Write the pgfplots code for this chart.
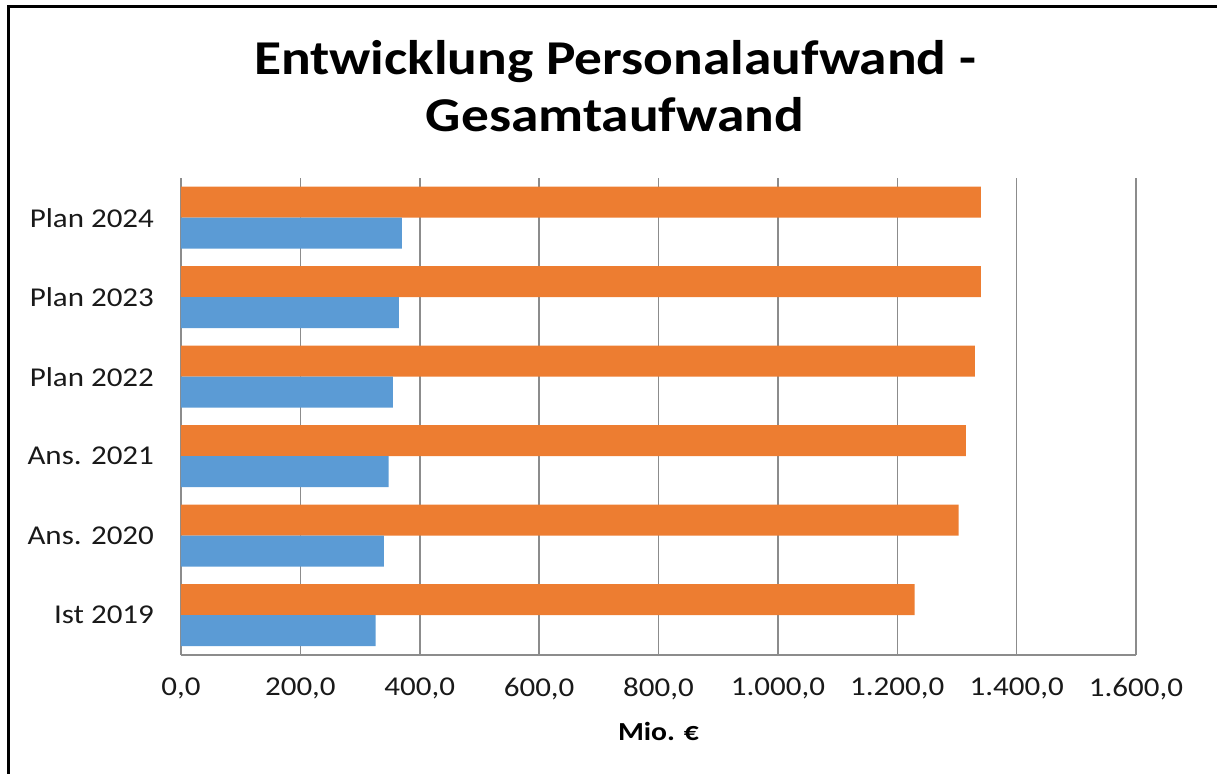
\documentclass[border=0pt]{standalone}
\usepackage{pgfplots}
\pgfplotsset{compat=1.18}
\usepackage{fontspec}
\setmainfont[FakeStretch=1.14]{Carlito}
\definecolor{barorange}{HTML}{ED7D31}
\definecolor{barblue}{HTML}{5B9BD5}
\definecolor{gridgray}{HTML}{8C8C8C}
\begin{document}
\begin{tikzpicture}
\path[use as bounding box] (0,0) rectangle (608.5pt,387pt);
\draw[line width=1.5pt] (4pt,0) -- (4pt,383.5pt) -- (608.5pt,383.5pt);
\node[anchor=base, font=\bfseries\fontsize{24.3}{28}\selectfont] at (307.5pt,349.5pt) {Entwicklung Personalaufwand -};
\node[anchor=base, font=\bfseries\fontsize{24.3}{28}\selectfont] at (307.5pt,321pt) {Gesamtaufwand};
\begin{axis}[
  at={(90.5pt,59.5pt)}, anchor=south west,
  scale only axis, width=477.5pt, height=238.5pt,
  xbar, bar width=0.39,
  xmin=0, xmax=1600, ymin=-0.5, ymax=5.5,
  xtick={0,200,...,1600},
  ytick={0,...,5},
  yticklabels={Ist 2019, Ans. 2020, Ans. 2021, Plan 2022, Plan 2023, Plan 2024},
  xmajorgrids,
  major grid style={draw=gridgray, line width=0.75pt},
  axis x line*=bottom, axis y line*=left,
  axis line style={draw=gridgray, line width=0.75pt, -},
  major tick length=0pt,
  tick style={draw=none},
  ticklabel style={font=\fontsize{13.6}{16}\selectfont, text=black!90},
  yticklabel style={xshift=-10pt},
  xticklabel style={yshift=-8pt},
  xlabel={Mio. €},
  xlabel style={font=\bfseries\fontsize{13}{15}\selectfont, yshift=-4pt},
  /pgf/number format/.cd, fixed, fixed zerofill, precision=1, use comma, 1000 sep={.}, assume math mode=true,
]
\addplot[fill=barorange, draw=none, bar shift=0.195] coordinates {
  (1229,0) (1303,1) (1315,2) (1330,3) (1340,4) (1340,5)};
\addplot[fill=barblue, draw=none, bar shift=-0.195] coordinates {
  (326,0) (340,1) (348,2) (355,3) (365,4) (370,5)};
\end{axis}
\end{tikzpicture}
\end{document}
